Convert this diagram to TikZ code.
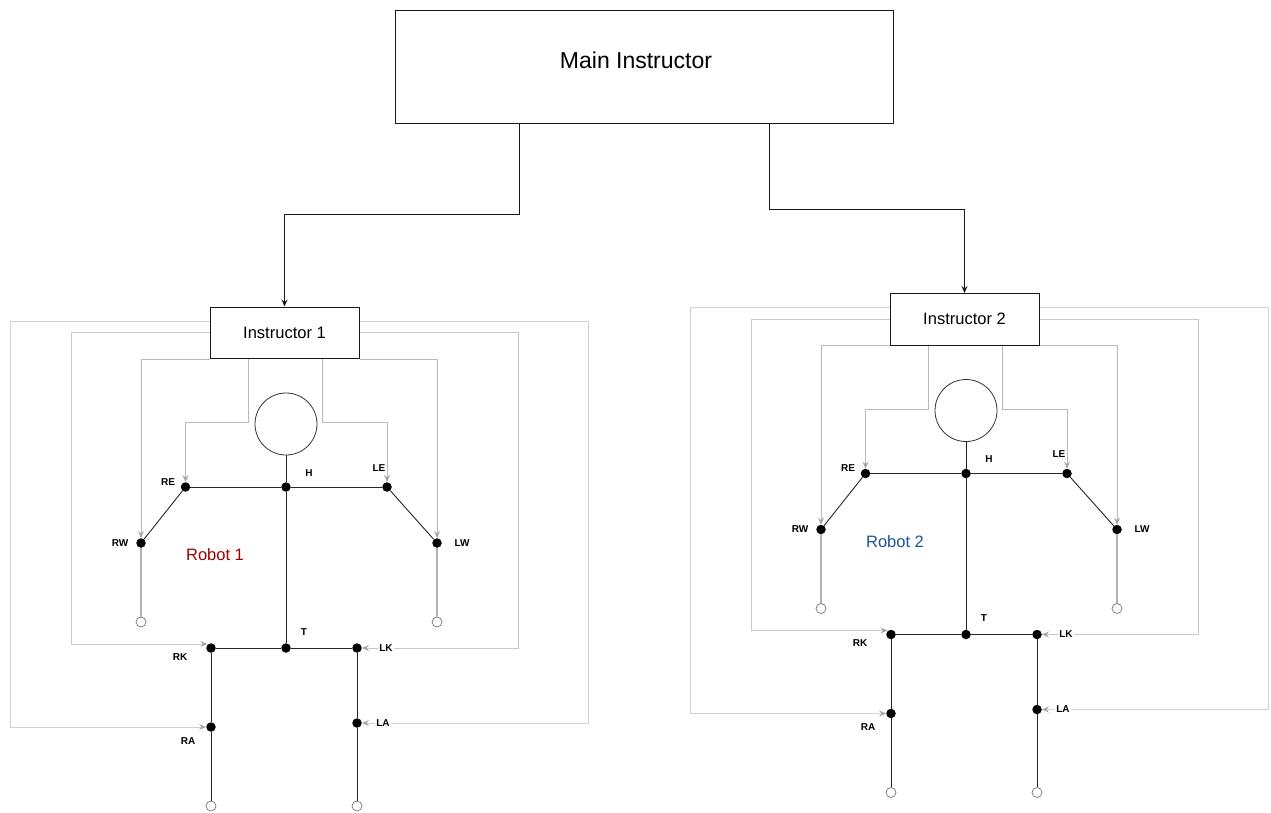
\documentclass[tikz,border=0pt]{standalone}
\usepackage{fontspec}
\setmainfont{Liberation Sans}
\usetikzlibrary{arrows.meta}

\definecolor{robotred}{RGB}{153,0,0}
\definecolor{robotblue}{RGB}{28,84,156}
\definecolor{frameouter}{RGB}{210,210,210}
\definecolor{framemid}{RGB}{200,200,200}
\definecolor{frameinner}{RGB}{185,185,185}
\definecolor{tipgray}{RGB}{165,165,165}

\tikzset{
  box/.style={draw=black!90, line width=1pt, fill=white, inner sep=0pt},
  joint/.style={circle, fill=black, inner sep=0pt, minimum size=9.5pt},
  endring/.style={circle, draw=black!60, fill=white, line width=0.6pt, inner sep=0pt, minimum size=10pt},
  headc/.style={circle, draw=black!80, line width=0.8pt, inner sep=0pt, minimum size=62pt},
  limb/.style={draw=black!85, line width=0.9pt},
  jlbl/.style={font=\bfseries\fontsize{10}{10}\selectfont, fill=white, inner sep=1pt},
  feed/.style={line width=1pt, -{Stealth[length=7pt,width=6pt,inset=2.5pt,color=tipgray]}},
  outerfeed/.style={feed, draw=frameouter},
  midfeed/.style={feed, draw=framemid},
  innerfeed/.style={feed, draw=frameinner},
  command/.style={draw=black!90, line width=0.9pt, -{Stealth[length=7pt,width=6pt,inset=2.5pt]}}
}

% One stick-figure robot with its instructor and feedback lines
\newcommand{\robotfig}[2]{%
  \node[box, minimum width=149pt, minimum height=51.5pt,
        font=\fontsize{16.5}{18}\selectfont] (inst) at (284.5,332.75) {Instructor #1};
  \node[headc] (head) at (286,424) {};
  \node[joint] (h)  at (286,487) {};
  \node[joint] (re) at (185.5,487) {};
  \node[joint] (le) at (387,487) {};
  \node[joint] (rw) at (141,543) {};
  \node[joint] (lw) at (437,543) {};
  \node[endring] (rwe) at (141,622) {};
  \node[endring] (lwe) at (437,622) {};
  \node[joint] (t)  at (286,648) {};
  \node[joint] (rk) at (211,648) {};
  \node[joint] (lk) at (357,648) {};
  \node[joint] (ra) at (211,727) {};
  \node[joint] (la) at (357,723) {};
  \node[endring] (rae) at (211,806) {};
  \node[endring] (lae) at (357,806) {};
  \node[font=\fontsize{16.5}{18}\selectfont, text=#2, inner sep=0pt] (name) at (215,555) {Robot #1};
  % skeleton
  \draw[limb] (head) -- (h);
  \draw[limb] (re) -- (h) -- (le);
  \draw[limb] (re) -- (rw) -- (rwe);
  \draw[limb] (le) -- (lw) -- (lwe);
  \draw[limb] (h) -- (t);
  \draw[limb] (rk) -- (t) -- (lk);
  \draw[limb] (rk) -- (ra) -- (rae);
  \draw[limb] (lk) -- (la) -- (lae);
  % bends of the feedback lines
  \coordinate (oL) at (10,727);
  \coordinate (oR) at (588,723);
  \coordinate (mL) at (71,644);
  \coordinate (mR) at (518,648);
  % outer loop: ankles
  \draw[outerfeed] ([yshift=11.75pt]inst.west) -| (oL) -- (ra);
  \draw[outerfeed] ([yshift=11.75pt]inst.east) -| (oR) -- (la);
  % middle loop: knees
  \draw[midfeed] (inst.west) -| (mL) -- (rk.north west |- mL);
  \draw[midfeed] (inst.east) -| (mR) -- (lk);
  % inner loop: wrists and elbows
  \draw[innerfeed] (inst.south west) -| (rw.north);
  \draw[innerfeed] (inst.south east) -| (lw.north);
  \draw[innerfeed] ([xshift=39pt]inst.south west) -- ++(0,63.5) -| (re.north);
  \draw[innerfeed] ([xshift=-37pt]inst.south east) -- ++(0,63.5) -| (le.north);
  % joint labels, set over the feedback lines
  \node[jlbl] (lre) at (168,482) {RE};
  \node[jlbl] (lh)  at (309,473) {H};
  \node[jlbl] (lle) at (379,468) {LE};
  \node[jlbl] (lrw) at (120,543) {RW};
  \node[jlbl] (llw) at (462,543) {LW};
  \node[jlbl] (lt)  at (304,632) {T};
  \node[jlbl] (lrk) at (180,657) {RK};
  \node[jlbl] (llk) at (386,648) {LK};
  \node[jlbl] (lra) at (188,741) {RA};
  \node[jlbl] (lla) at (383,723) {LA};
}

\begin{document}
\begin{tikzpicture}[x=1pt, y=-1pt]
  \useasboundingbox (0,0) rectangle (1271,812);

  \node[box, minimum width=498pt, minimum height=113pt] (main) at (644,66.5) {};
  \node[font=\fontsize{23}{26}\selectfont, inner sep=0pt] (maintitle) at (636,60) {Main Instructor};

  \begin{scope}[name prefix=a-]
    \robotfig{1}{robotred}
  \end{scope}
  \begin{scope}[shift={(680,-13.5)}, name prefix=b-]
    \robotfig{2}{robotblue}
  \end{scope}

  \draw[command] ([xshift=125pt]main.south west) -- ++(0,91) -| (a-inst.north);
  \draw[command] ([xshift=-124pt]main.south east) -- ++(0,86) -| (b-inst.north);
\end{tikzpicture}
\end{document}
